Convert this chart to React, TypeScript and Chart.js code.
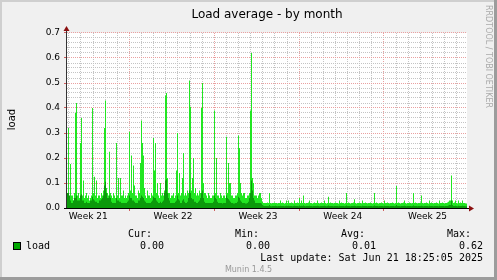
import React, { useEffect, useRef } from 'react';
import { Chart, registerables } from 'chart.js';

Chart.register(...registerables);

const W = 497;
const H = 280;

// ---- texts ----
const TITLE = 'Load average - by month';
const Y_TITLE = 'load';
const WATERMARK = 'RRDTOOL / TOBI OETIKER';
const WEEK_LABELS = ['Week 21', 'Week 22', 'Week 23', 'Week 24', 'Week 25'];
const SERIES_NAME = 'load';
const STAT_HEADERS = ['Cur:', 'Min:', 'Avg:', 'Max:'];
const STAT_VALUES = ['0.00', '0.00', '0.01', '0.62'];
const LAST_UPDATE = 'Last update: Sat Jun 21 18:25:05 2025';
const FOOTER = 'Munin 1.4.5';

// ---- axes ----
const SPAN_DAYS = 33; // days shown across the plot
const FIRST_DAY_LINE = 0.15; // first midnight after the left edge (days)
const FIRST_WEEK_DAY_INDEX = 5; // index of the first day line that starts a week
const WEEK_LABEL_SHIFT = 3.6; // label placed mid-week (days after week start)
const Y_MAX = 0.7;
const Y_MINOR_STEP = 0.02;
const Y_MAJOR_EVERY = 5;

// ---- data: 400 samples (~2 h each) across the month ----
const loadMax = [
  0.07, 0.05, 0.32, 0.04, 0.176, 0.05, 0.05, 0.03, 0.06, 0.38,
  0.42, 0.05, 0.06, 0.04, 0.26, 0.36, 0.05, 0.11, 0.04, 0.05,
  0.06, 0.04, 0.05, 0.03, 0.04, 0.05, 0.40, 0.06, 0.125, 0.05,
  0.11, 0.04, 0.05, 0.05, 0.04, 0.06, 0.05, 0.07, 0.32, 0.43,
  0.08, 0.06, 0.05, 0.225, 0.06, 0.05, 0.04, 0.06, 0.05, 0.04,
  0.26, 0.05, 0.12, 0.04, 0.12, 0.05, 0.05, 0.07, 0.04, 0.05,
  0.04, 0.05, 0.06, 0.305, 0.07, 0.21, 0.06, 0.17, 0.09, 0.05,
  0.05, 0.04, 0.07, 0.06, 0.18, 0.35, 0.26, 0.21, 0.08, 0.05,
  0.04, 0.07, 0.05, 0.05, 0.04, 0.06, 0.05, 0.28, 0.15, 0.26,
  0.06, 0.10, 0.05, 0.04, 0.10, 0.05, 0.06, 0.05, 0.07, 0.45,
  0.46, 0.12, 0.06, 0.06, 0.04, 0.05, 0.05, 0.06, 0.04, 0.05,
  0.15, 0.30, 0.06, 0.14, 0.05, 0.06, 0.12, 0.22, 0.05, 0.06,
  0.05, 0.07, 0.06, 0.51, 0.405, 0.07, 0.12, 0.20, 0.06, 0.08,
  0.05, 0.06, 0.05, 0.07, 0.06, 0.40, 0.50, 0.10, 0.06, 0.06,
  0.05, 0.04, 0.06, 0.05, 0.04, 0.04, 0.05, 0.05, 0.39, 0.06,
  0.20, 0.05, 0.05, 0.04, 0.06, 0.05, 0.04, 0.05, 0.05, 0.04,
  0.285, 0.06, 0.18, 0.10, 0.10, 0.05, 0.05, 0.04, 0.04, 0.05,
  0.05, 0.06, 0.29, 0.24, 0.10, 0.06, 0.05, 0.06, 0.06, 0.04,
  0.04, 0.05, 0.05, 0.06, 0.39, 0.62, 0.12, 0.10, 0.05, 0.05,
  0.05, 0.04, 0.05, 0.06, 0.06, 0.04, 0.025, 0.02, 0.02, 0.02,
  0.02, 0.022, 0.02, 0.06, 0.02, 0.018, 0.02, 0.02, 0.022, 0.02,
  0.02, 0.018, 0.02, 0.02, 0.03, 0.02, 0.022, 0.02, 0.018, 0.02,
  0.03, 0.02, 0.03, 0.02, 0.02, 0.022, 0.02, 0.018, 0.03, 0.02,
  0.02, 0.022, 0.02, 0.04, 0.02, 0.03, 0.02, 0.05, 0.02, 0.018,
  0.02, 0.02, 0.022, 0.03, 0.02, 0.02, 0.018, 0.02, 0.022, 0.02,
  0.02, 0.03, 0.02, 0.018, 0.02, 0.022, 0.02, 0.02, 0.03, 0.02,
  0.018, 0.02, 0.045, 0.02, 0.022, 0.02, 0.02, 0.018, 0.02, 0.022,
  0.02, 0.02, 0.018, 0.03, 0.02, 0.022, 0.02, 0.02, 0.018, 0.02,
  0.06, 0.02, 0.022, 0.02, 0.018, 0.02, 0.02, 0.022, 0.035, 0.02,
  0.018, 0.02, 0.02, 0.022, 0.02, 0.018, 0.03, 0.02, 0.02, 0.022,
  0.02, 0.018, 0.02, 0.02, 0.022, 0.02, 0.018, 0.02, 0.06, 0.02,
  0.022, 0.02, 0.018, 0.02, 0.02, 0.022, 0.02, 0.018, 0.03, 0.02,
  0.02, 0.022, 0.02, 0.018, 0.02, 0.02, 0.022, 0.02, 0.018, 0.02,
  0.088, 0.02, 0.022, 0.02, 0.018, 0.02, 0.02, 0.022, 0.03, 0.02,
  0.018, 0.02, 0.02, 0.022, 0.02, 0.018, 0.02, 0.06, 0.02, 0.022,
  0.02, 0.018, 0.02, 0.02, 0.022, 0.05, 0.02, 0.018, 0.02, 0.02,
  0.022, 0.02, 0.018, 0.03, 0.02, 0.022, 0.02, 0.018, 0.02, 0.02,
  0.022, 0.02, 0.018, 0.03, 0.02, 0.02, 0.022, 0.02, 0.018, 0.02,
  0.02, 0.022, 0.025, 0.03, 0.03, 0.13, 0.03, 0.02, 0.022, 0.03,
  0.02, 0.018, 0.03, 0.02, 0.022, 0.02, 0.03, 0.02, 0.02, 0.018,
];

const loadAvg = [
  0.06, 0.06, 0.06, 0.05, 0.03, 0.02, 0.02, 0.03, 0.04, 0.04,
  0.05, 0.03, 0.03, 0.03, 0.05, 0.055, 0.03, 0.03, 0.02, 0.02,
  0.025, 0.02, 0.02, 0.02, 0.03, 0.03, 0.045, 0.035, 0.03, 0.025,
  0.025, 0.02, 0.02, 0.03, 0.03, 0.035, 0.04, 0.05, 0.09, 0.105,
  0.06, 0.04, 0.04, 0.05, 0.04, 0.025, 0.02, 0.02, 0.02, 0.02,
  0.04, 0.03, 0.03, 0.025, 0.025, 0.02, 0.02, 0.02, 0.02, 0.02,
  0.02, 0.025, 0.03, 0.05, 0.04, 0.04, 0.03, 0.03, 0.025, 0.02,
  0.02, 0.02, 0.03, 0.03, 0.04, 0.05, 0.045, 0.04, 0.03, 0.025,
  0.02, 0.02, 0.02, 0.02, 0.02, 0.025, 0.03, 0.045, 0.04, 0.04,
  0.03, 0.025, 0.02, 0.02, 0.025, 0.02, 0.025, 0.03, 0.06, 0.11,
  0.115, 0.06, 0.04, 0.03, 0.02, 0.02, 0.02, 0.02, 0.02, 0.025,
  0.03, 0.05, 0.035, 0.03, 0.02, 0.02, 0.03, 0.035, 0.025, 0.02,
  0.02, 0.025, 0.04, 0.07, 0.06, 0.04, 0.035, 0.035, 0.025, 0.025,
  0.02, 0.02, 0.025, 0.03, 0.04, 0.06, 0.07, 0.04, 0.025, 0.02,
  0.02, 0.02, 0.02, 0.02, 0.02, 0.02, 0.02, 0.025, 0.05, 0.04,
  0.035, 0.025, 0.02, 0.02, 0.02, 0.02, 0.018, 0.02, 0.02, 0.02,
  0.05, 0.04, 0.035, 0.03, 0.025, 0.02, 0.02, 0.018, 0.018, 0.02,
  0.02, 0.025, 0.045, 0.04, 0.03, 0.025, 0.02, 0.02, 0.02, 0.018,
  0.018, 0.02, 0.025, 0.04, 0.06, 0.11, 0.07, 0.04, 0.03, 0.02,
  0.02, 0.02, 0.02, 0.02, 0.02, 0.018, 0.012, 0.009, 0.008, 0.008,
  0.008, 0.008, 0.008, 0.012, 0.008, 0.007, 0.008, 0.008, 0.008, 0.009,
  0.008, 0.007, 0.008, 0.008, 0.009, 0.008, 0.008, 0.008, 0.007, 0.008,
  0.009, 0.008, 0.009, 0.008, 0.008, 0.008, 0.007, 0.008, 0.009, 0.008,
  0.008, 0.008, 0.007, 0.01, 0.008, 0.009, 0.008, 0.01, 0.008, 0.007,
  0.008, 0.008, 0.008, 0.009, 0.008, 0.008, 0.007, 0.008, 0.008, 0.008,
  0.008, 0.009, 0.008, 0.007, 0.008, 0.008, 0.008, 0.008, 0.009, 0.008,
  0.007, 0.008, 0.01, 0.008, 0.008, 0.008, 0.008, 0.007, 0.008, 0.008,
  0.008, 0.008, 0.007, 0.009, 0.008, 0.008, 0.008, 0.008, 0.007, 0.008,
  0.01, 0.008, 0.008, 0.008, 0.007, 0.008, 0.008, 0.008, 0.009, 0.008,
  0.007, 0.008, 0.008, 0.008, 0.008, 0.007, 0.009, 0.008, 0.008, 0.008,
  0.008, 0.007, 0.008, 0.008, 0.008, 0.008, 0.007, 0.008, 0.01, 0.008,
  0.008, 0.008, 0.007, 0.008, 0.008, 0.008, 0.008, 0.007, 0.009, 0.008,
  0.008, 0.008, 0.008, 0.007, 0.008, 0.008, 0.008, 0.008, 0.007, 0.008,
  0.012, 0.008, 0.008, 0.008, 0.007, 0.008, 0.008, 0.008, 0.009, 0.008,
  0.007, 0.008, 0.008, 0.008, 0.008, 0.007, 0.008, 0.01, 0.008, 0.008,
  0.008, 0.007, 0.008, 0.008, 0.008, 0.009, 0.008, 0.007, 0.008, 0.008,
  0.008, 0.008, 0.007, 0.009, 0.008, 0.008, 0.008, 0.007, 0.008, 0.008,
  0.008, 0.008, 0.007, 0.009, 0.008, 0.008, 0.008, 0.008, 0.007, 0.008,
  0.008, 0.008, 0.01, 0.012, 0.012, 0.03, 0.012, 0.008, 0.008, 0.009,
  0.008, 0.007, 0.009, 0.008, 0.008, 0.008, 0.009, 0.008, 0.008, 0.007,
];

// ---- colours ----
const BG = '#f0f0f0';
const CANVAS_BG = '#ffffff';
const MAX_COLOR = '#22e622';
const AVG_COLOR = '#0b9a0b';
const SWATCH_COLOR = '#00a800';
const MINOR_GRID = '#c4c4c4';
const MAJOR_GRID = '#eaa0a0';
const TICK_RED = '#d06060';
const AXIS_COLOR = '#333333';
const ARROW_COLOR = '#8b1010';

const toPoints = (vals: number[]) => {
  const step = SPAN_DAYS / vals.length;
  const pts = vals.map((v, i) => ({ x: i * step, y: v }));
  pts.push({ x: SPAN_DAYS, y: vals[vals.length - 1] });
  return pts;
};

function buildXTicks() {
  const t: any[] = [];
  for (let k = 0; FIRST_DAY_LINE + k <= SPAN_DAYS; k++) {
    t.push({
      value: FIRST_DAY_LINE + k,
      kind: 'day',
      isMajor: (k - FIRST_WEEK_DAY_INDEX) % 7 === 0 && k >= FIRST_WEEK_DAY_INDEX,
      text: '',
    });
  }
  WEEK_LABELS.forEach((lab, w) => {
    t.push({
      value: FIRST_DAY_LINE + FIRST_WEEK_DAY_INDEX + 7 * (w - 1) + WEEK_LABEL_SHIFT,
      kind: 'label',
      isMajor: false,
      text: lab,
    });
  });
  t.sort((a, b) => a.value - b.value);
  return t;
}

function buildYTicks() {
  const t: any[] = [];
  const n = Math.round(Y_MAX / Y_MINOR_STEP);
  for (let k = 0; k <= n; k++) {
    const v = k * Y_MINOR_STEP;
    const major = k % Y_MAJOR_EVERY === 0;
    t.push({ value: v, isMajor: major, kind: 'grid', text: major ? v.toFixed(1) : '' });
  }
  return t;
}

const chromePlugin = {
  id: 'muninChrome',
  beforeDraw(chart: any) {
    const { ctx, chartArea: a } = chart;
    ctx.save();
    ctx.fillStyle = BG;
    ctx.fillRect(0, 0, W, H);
    ctx.fillStyle = '#cfcfcf';
    ctx.fillRect(0, 0, W, 2);
    ctx.fillRect(0, 0, 2, H);
    ctx.fillStyle = '#9c9c9c';
    ctx.fillRect(W - 3, 0, 3, H);
    ctx.fillRect(0, H - 3, W, 3);
    ctx.fillStyle = CANVAS_BG;
    ctx.fillRect(a.left, a.top, a.right - a.left, a.bottom - a.top);
    ctx.restore();
  },
  afterDatasetsDraw(chart: any) {
    const { ctx, chartArea: a } = chart;
    ctx.save();
    ctx.strokeStyle = AXIS_COLOR;
    ctx.lineWidth = 1;
    ctx.beginPath();
    ctx.moveTo(a.left - 0.5, a.bottom + 0.5);
    ctx.lineTo(a.left - 0.5, a.top - 4);
    ctx.stroke();
    ctx.strokeStyle = '#000';
    ctx.beginPath();
    ctx.moveTo(a.left - 3, a.bottom + 0.5);
    ctx.lineTo(a.right + 3, a.bottom + 0.5);
    ctx.stroke();
    ctx.fillStyle = ARROW_COLOR;
    ctx.beginPath();
    ctx.moveTo(a.left - 0.5, a.top - 7);
    ctx.lineTo(a.left - 3.5, a.top - 2);
    ctx.lineTo(a.left + 2.5, a.top - 2);
    ctx.closePath();
    ctx.fill();
    ctx.beginPath();
    ctx.moveTo(a.right + 7, a.bottom + 0.5);
    ctx.lineTo(a.right + 2, a.bottom - 2.5);
    ctx.lineTo(a.right + 2, a.bottom + 3.5);
    ctx.closePath();
    ctx.fill();
    ctx.restore();
  },
  afterDraw(chart: any) {
    const { ctx, chartArea: a } = chart;
    ctx.save();
    ctx.fillStyle = '#000';
    ctx.textBaseline = 'alphabetic';
    ctx.font = '12px "DejaVu Sans"';
    ctx.textAlign = 'center';
    ctx.fillText(TITLE, (a.left + a.right) / 2, 18);

    // y title
    ctx.save();
    ctx.font = '10px "DejaVu Sans"';
    ctx.translate(15, (a.top + a.bottom) / 2 - 1);
    ctx.rotate(-Math.PI / 2);
    ctx.textAlign = 'center';
    ctx.fillText(Y_TITLE, 0, 0);
    ctx.restore();

    // watermark
    ctx.save();
    ctx.font = '8px "DejaVu Sans"';
    ctx.fillStyle = '#aaaaaa';
    ctx.translate(485.5, 5);
    ctx.rotate(Math.PI / 2);
    ctx.textAlign = 'left';
    ctx.fillText(WATERMARK, 0, 0);
    ctx.restore();

    // legend
    ctx.font = '10px "DejaVu Sans Mono"';
    ctx.textAlign = 'left';
    const headerX = [128, 235, 341, 447];
    STAT_HEADERS.forEach((h, i) => ctx.fillText(h, headerX[i], 237));
    ctx.fillStyle = '#000';
    ctx.fillRect(13, 242, 8, 8);
    ctx.fillStyle = SWATCH_COLOR;
    ctx.fillRect(14, 243, 6, 6);
    ctx.fillStyle = '#000';
    ctx.fillText(SERIES_NAME, 26, 249);
    ctx.textAlign = 'right';
    const valueX = [164, 270, 376, 483];
    STAT_VALUES.forEach((v, i) => ctx.fillText(v, valueX[i], 249));
    ctx.fillText(LAST_UPDATE, 483, 261);

    ctx.font = '8px "DejaVu Sans"';
    ctx.fillStyle = '#999999';
    ctx.textAlign = 'center';
    ctx.fillText(FOOTER, 248.5, 272);
    ctx.restore();
  },
};

export default function App() {
  const ref = useRef<HTMLCanvasElement | null>(null);

  useEffect(() => {
    document.body.style.margin = '0';
    const canvas = ref.current;
    if (!canvas) return;
    const chart = new Chart(canvas, {
      type: 'line',
      data: {
        datasets: [
          {
            label: 'avg',
            data: toPoints(loadAvg),
            stepped: 'after',
            fill: 'origin',
            backgroundColor: AVG_COLOR,
            borderColor: 'rgba(0,0,0,0)',
            borderWidth: 0,
            pointRadius: 0,
          },
          {
            label: 'max',
            data: toPoints(loadMax),
            stepped: 'after',
            fill: 'origin',
            backgroundColor: MAX_COLOR,
            borderColor: 'rgba(0,0,0,0)',
            borderWidth: 0,
            pointRadius: 0,
          },
        ],
      } as any,
      options: {
        animation: false,
        responsive: false,
        devicePixelRatio: 1,
        layout: { padding: { top: 33, right: 30, left: 0, bottom: 0 } },
        plugins: {
          legend: { display: false },
          tooltip: { enabled: false },
          title: { display: false },
        },
        scales: {
          x: {
            type: 'linear',
            min: 0,
            max: SPAN_DAYS,
            afterBuildTicks: (s: any) => {
              s.ticks = buildXTicks();
            },
            afterFit: (s: any) => {
              s.height = 72;
            },
            ticks: {
              autoSkip: false,
              maxRotation: 0,
              minRotation: 0,
              padding: 0,
              color: '#000',
              font: { family: 'DejaVu Sans', size: 9 },
              callback: (_v: any, i: number, t: any[]) => (t[i] && t[i].text) || '',
            },
            grid: {
              color: (c: any) =>
                !c.tick || c.tick.kind === 'label' ? 'rgba(0,0,0,0)' : c.tick.isMajor ? MAJOR_GRID : MINOR_GRID,
              tickColor: (c: any) => (c.tick && c.tick.isMajor ? TICK_RED : 'rgba(0,0,0,0)'),
              tickLength: 3,
              lineWidth: 1,
            },
            border: { display: false, dash: [1, 1] },
          },
          y: {
            type: 'linear',
            min: 0,
            max: Y_MAX,
            afterBuildTicks: (s: any) => {
              s.ticks = buildYTicks();
            },
            afterFit: (s: any) => {
              s.width = 67;
            },
            ticks: {
              autoSkip: false,
              padding: 4,
              color: '#000',
              font: { family: 'DejaVu Sans', size: 9 },
              callback: (_v: any, i: number, t: any[]) => (t[i] && t[i].text) || '',
            },
            grid: {
              color: (c: any) => (c.tick && c.tick.isMajor ? MAJOR_GRID : MINOR_GRID),
              tickColor: (c: any) => (c.tick && c.tick.isMajor ? TICK_RED : 'rgba(0,0,0,0)'),
              tickLength: 3,
              lineWidth: 1,
            },
            border: { display: false, dash: [1, 1] },
          },
        },
      } as any,
      plugins: [chromePlugin],
    });
    return () => chart.destroy();
  }, []);

  return (
    <div style={{ position: 'absolute', left: 0, top: 0, width: W, height: H }}>
      <canvas ref={ref} width={W} height={H} style={{ display: 'block', width: W, height: H }} />
    </div>
  );
}
